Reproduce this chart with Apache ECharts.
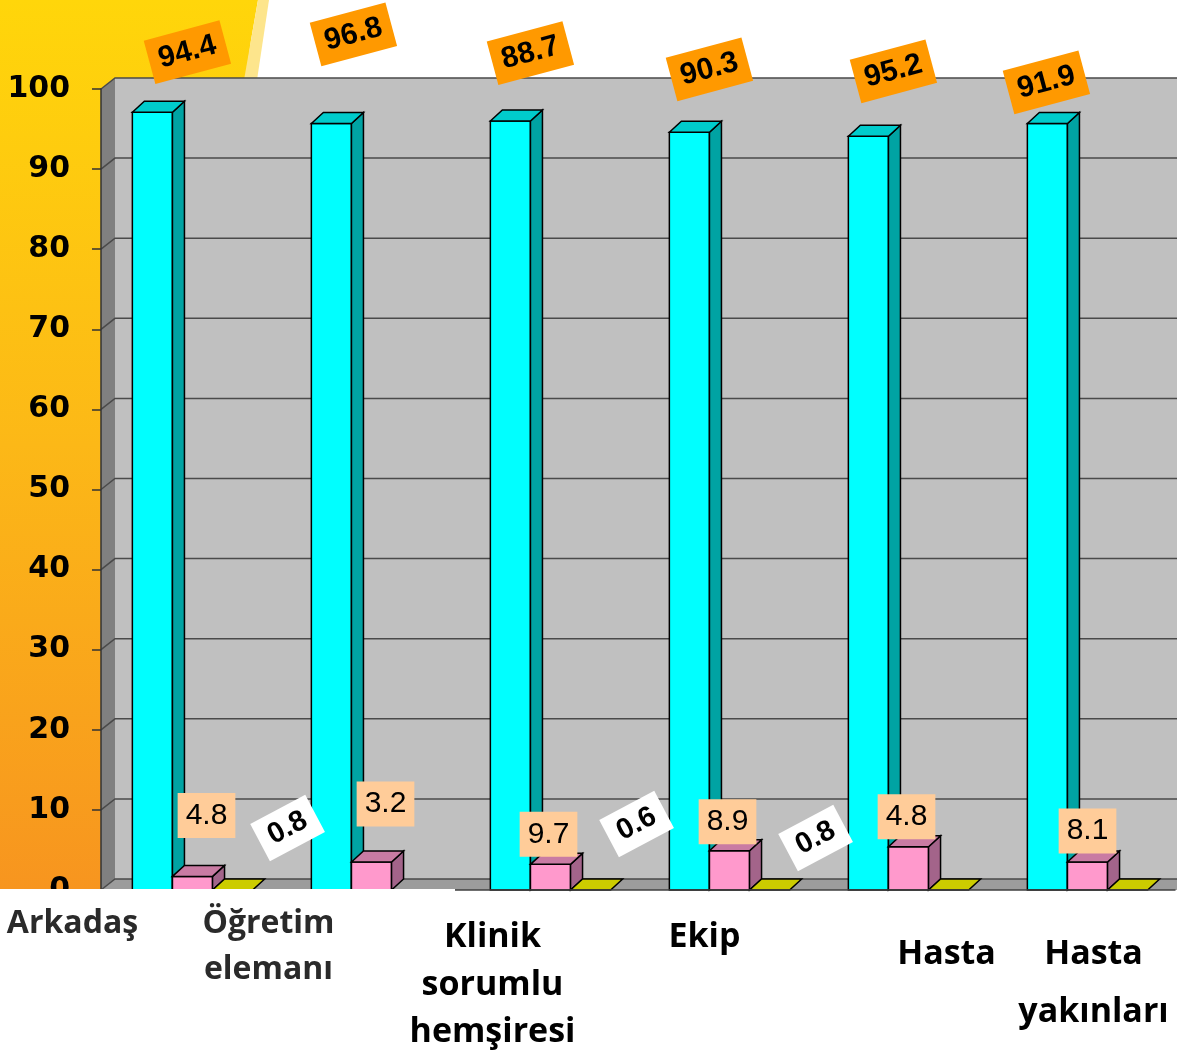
<!DOCTYPE html>
<html>
<head>
<meta charset="utf-8">
<title>chart</title>
<script src="https://cdn.jsdelivr.net/npm/echarts@6/dist/echarts.min.js"></script>
<style>
  html, body { margin: 0; padding: 0; background: #fff; }
  #main { width: 1177px; height: 1050px; }
</style>
</head>
<body>
<div id="main"></div>
<script>
// 1、data
var categories = ['Arkadaş', 'Öğretim\nelemanı', 'Klinik\nsorumlu\nhemşiresi', 'Ekip', 'Hasta', 'Hasta\nyakınları'];
// bar heights as they are drawn
var cyanValues = [97.1, 95.7, 96.0, 94.6, 94.1, 95.7];
var pinkValues = [1.7, 3.5, 3.2, 4.9, 5.4, 3.5];
var oliveValues = [0, null, 0, 0, 0, 0];
// numbers printed in the boxes
var cyanLabels = [94.4, 96.8, 88.7, 90.3, 95.2, 91.9];
var pinkLabels = [4.8, 3.2, 9.7, 8.9, 4.8, 8.1];
var oliveLabels = [0.8, null, 0.6, 0.8, null, null];
var yTicks = [0, 10, 20, 30, 40, 50, 60, 70, 80, 90, 100];

// 2、3D look
var DX = 12, DY = -11;   // bar depth
var WX = 14, WY = -11;   // wall depth

function renderWalls(params, api) {
  var cs = params.coordSys;
  var x0 = cs.x, x1 = cs.x + cs.width + 30;
  var y0 = api.coord([0, 0])[1];
  var yTop = api.coord([0, 100])[1];
  var children = [
    { type: 'polygon', shape: { points: [[x0, yTop], [x0 + WX, yTop + WY], [x0 + WX, y0 + WY], [x0, y0]] }, style: { fill: '#808080' } },
    { type: 'rect', shape: { x: x0 + WX, y: yTop + WY, width: x1 - x0 - WX, height: y0 - yTop }, style: { fill: '#c0c0c0' } },
    { type: 'polygon', shape: { points: [[x0, y0], [x0 + WX, y0 + WY], [x1, y0 + WY], [x1, y0]] }, style: { fill: '#9c9c9c' } }
  ];
  yTicks.forEach(function (t) {
    var y = api.coord([0, t])[1];
    children.push({
      type: 'polyline',
      shape: { points: [[x0, y], [x0 + WX, y + WY], [x1, y + WY]] },
      style: { stroke: '#4a4a4a', lineWidth: 1.5, fill: null }
    });
  });
  return { type: 'group', children: children };
}

function makeBars(slot, front, top, side, labels, box) {
  return function (params, api) {
    var v = api.value(1);
    if (isNaN(v)) return;
    var i = api.value(0);
    var bw = api.size([1, 0])[0] * 0.224;
    var base = api.coord([i, 0]);
    var yTop = api.coord([i, v])[1];
    var yBot = base[1];
    var xl = base[0] + (slot - 0.5) * bw + 2;
    var xr = xl + bw;
    var ch = [];
    if (yBot - yTop > 0.5) {
      ch.push({ type: 'rect', shape: { x: xl, y: yTop, width: bw, height: yBot - yTop },
        style: { fill: front, stroke: '#000', lineWidth: 1.5 } });
      ch.push({ type: 'polygon', shape: { points: [[xr, yTop], [xr + DX, yTop + DY], [xr + DX, yBot + DY], [xr, yBot]] },
        style: { fill: side, stroke: '#000', lineWidth: 1.5 } });
    }
    ch.push({ type: 'polygon', shape: { points: [[xl, yTop], [xl + DX, yTop + DY], [xr + DX, yTop + DY], [xr, yTop]] },
      style: { fill: top, stroke: '#000', lineWidth: 1.5 } });
    var lab = labels[i];
    if (lab != null) {
      var nudge = box.nudge[i];
      ch.push({
        type: 'text',
        x: (xl + xr) / 2 + box.dx + nudge[0],
        y: (box.fromBase ? yBot : yTop) + box.dy + nudge[1],
        rotation: box.rot * Math.PI / 180,
        z2: 100,
        style: {
          text: lab.toFixed(1), font: box.font, fill: '#000',
          backgroundColor: box.bg, padding: box.pad,
          align: 'center', verticalAlign: 'middle'
        }
      });
    }
    return { type: 'group', children: ch };
  };
}

function toPairs(values) {
  return values.map(function (v, i) { return [i, v == null ? '-' : v]; });
}

// label boxes were placed by hand in the picture, hence the nudges
var cyanBox = { dx: 20, dy: -63, rot: 15, font: 'bold 30px "Liberation Sans"', bg: '#ff9900', pad: [8, 10, 7, 10],
  nudge: [[15, 3], [2, -26], [0, -5], [0, 0], [5, -2], [-21, 22]] };
var pinkBox = { dx: 0, dy: -31, rot: 0, font: '30px "Liberation Sans"', bg: '#ffcc99', pad: [8, 8, 7, 8],
  nudge: [[14, -30], [14, -27], [-2, 1], [-2, 2], [-2, 1], [0, 0]] };
var oliveBox = { dx: 45, dy: -60, rot: 28, fromBase: true, font: 'bold 29px "Liberation Sans"', bg: '#ffffff', pad: [7, 11, 6, 11],
  nudge: [[10, -2], [0, 0], [1, -6], [1, 8], [0, 0], [0, 0]] };

// category labels sit off-centre in the picture:
// horizontal shift, and the centre of each line below the label block top
var labelShift = [-118, -101, -56, -23, 40, 8];
var labelCentres = [[23], [23, 69], [36, 84, 131], [36], [53], [53, 111]];
var rich = {};
categories.forEach(function (c, i) {
  var light = i < 2;
  var padR = labelShift[i] < 0 ? -2 * labelShift[i] : 0;
  var padL = labelShift[i] > 0 ? 2 * labelShift[i] : 0;
  var top = 0;
  labelCentres[i].forEach(function (mid, k) {
    var lh = 2 * (mid - top);
    top += lh;
    rich['r' + i + '_' + k] = {
      fontFamily: 'Open Sans', fontWeight: 'bold', fontSize: light ? 32 : 34,
      color: light ? '#2a2a2a' : '#000', lineHeight: lh,
      padding: [0, padR, 0, padL]
    };
  });
});

var chart = echarts.init(document.getElementById('main'));
var option = {
  backgroundColor: '#fff',
  animation: false,
  graphic: [
    { type: 'polygon', z: 0, shape: { points: [[0, 0], [258, 0], [251, 40], [244, 92], [101, 92], [101, 889], [0, 889]] },
      style: { fill: new echarts.graphic.LinearGradient(0, 0, 0, 1, [
        { offset: 0, color: '#ffd60a' }, { offset: 0.5, color: '#fcb817' }, { offset: 1, color: '#f7951f' }]) } },
    { type: 'polygon', z: 0, shape: { points: [[258, 0], [269, 0], [257, 80], [244, 80]] }, style: { fill: '#fde58c' } },
    { type: 'rect', z: 8, shape: { x: 0, y: 889, width: 455, height: 161 }, style: { fill: '#fff' } }
  ],
  grid: { left: 101, right: 2, top: 89, bottom: 160, outerBoundsMode: 'none' },
  xAxis: [
    {
      type: 'category', data: categories, position: 'bottom', offset: 2, z: 6,
      axisLine: { lineStyle: { color: '#404040', width: 1.5 } },
      axisTick: { length: 10, lineStyle: { color: '#404040', width: 1.5 } },
      axisLabel: { show: false }
    },
    {
      type: 'category', data: categories, position: 'bottom', z: 10,
      axisLine: { show: false }, axisTick: { show: false },
      axisLabel: {
        interval: 0, margin: 11, rich: rich,
        formatter: function (value, index) {
          return value.split('\n').map(function (s, k) {
            return '{r' + index + '_' + k + '|' + s + '}';
          }).join('\n');
        }
      }
    }
  ],
  yAxis: {
    type: 'value', min: 0, max: 100, interval: 10, z: 6,
    axisLine: { show: true, lineStyle: { color: '#333', width: 1.5 } },
    axisTick: { show: true, length: 9, lineStyle: { color: '#333', width: 1.5 } },
    splitLine: { show: false },
    axisLabel: { margin: 31, color: '#000', fontFamily: 'DejaVu Sans', fontWeight: 'bold', fontSize: 30 }
  },
  series: [
    { type: 'custom', renderItem: renderWalls, data: [[0, 0]], silent: true, z: 1 },
    { type: 'custom', renderItem: makeBars(-1, '#00ffff', '#00cccc', '#00a3a3', cyanLabels, cyanBox), data: toPairs(cyanValues), z: 2 },
    { type: 'custom', renderItem: makeBars(0, '#ff99cc', '#c97ba3', '#a3648a', pinkLabels, pinkBox), data: toPairs(pinkValues), z: 2 },
    { type: 'custom', renderItem: makeBars(1, '#cccc00', '#cccc00', '#999900', oliveLabels, oliveBox), data: toPairs(oliveValues), z: 2 }
  ]
};
chart.setOption(option);
</script>
</body>
</html>
